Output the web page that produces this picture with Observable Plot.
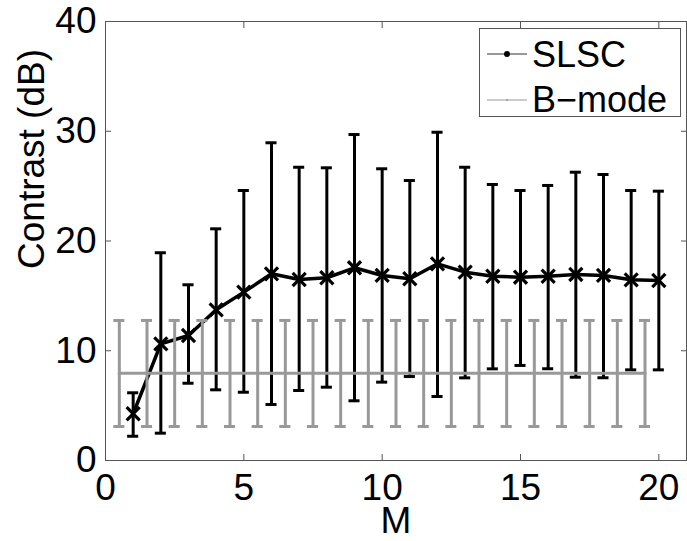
<!DOCTYPE html>
<html><head><meta charset="utf-8">
<script src="https://cdn.jsdelivr.net/npm/d3@7"></script>
<script src="https://cdn.jsdelivr.net/npm/@observablehq/plot@0.6"></script>
<style>body{margin:0;background:#fff} svg{display:block}</style>
</head><body><div id="chart"></div>
<script>
// SLSC contrast vs M
const M = [1,2,3,4,5,6,7,8,9,10,11,12,13,14,15,16,17,18,19,20];
const slscMean = [4.26,10.63,11.39,13.73,15.34,17.01,16.49,16.65,17.56,16.86,16.56,17.92,17.16,16.79,16.70,16.79,16.95,16.86,16.46,16.40];
const slscLow  = [2.21,2.49,7.04,6.44,6.22,5.10,6.38,6.68,5.44,7.14,7.65,5.83,7.53,8.35,8.66,8.36,7.59,7.54,8.26,8.26];
const slscHigh = [6.17,18.93,16.01,21.11,24.60,28.95,26.72,26.67,29.70,26.58,25.51,29.91,26.72,25.15,24.60,25.06,26.27,26.06,24.60,24.54];
// B-mode contrast (constant), plotted at half-integer positions
const bmodeM = [0.5,1.5,2.5,3.5,4.5,5.5,6.5,7.5,8.5,9.5,10.5,11.5,12.5,13.5,14.5,15.5,16.5,17.5,18.5,19.5];
const bmodeMean = [7.95,7.95,7.95,7.95,7.95,7.95,7.95,7.95,7.95,7.95,7.95,7.95,7.95,7.95,7.95,7.95,7.95,7.95,7.95,7.95];
const bmodeLow  = [3.10,3.10,3.10,3.10,3.10,3.10,3.10,3.10,3.10,3.10,3.10,3.10,3.10,3.10,3.10,3.10,3.10,3.10,3.10,3.10];
const bmodeHigh = [12.76,12.76,12.76,12.76,12.76,12.76,12.76,12.76,12.76,12.76,12.76,12.76,12.76,12.76,12.76,12.76,12.76,12.76,12.76,12.76];
const xTicks = [0,5,10,15,20];
const yTicks = [0,10,20,30,40];
const seriesNames = ["SLSC","B\u2212mode"];
const xLabel = "M";
const yLabel = "Contrast (dB)";

const slsc = M.map((m,i)=>({m, mean: slscMean[i], lo: slscLow[i], hi: slscHigh[i]}));
const bmode = bmodeM.map((m,i)=>({m, mean: bmodeMean[i], lo: bmodeLow[i], hi: bmodeHigh[i]}));

const cap = 0.2;
const gray = "#999999";
const axisColor = "#555555";
const font = "'Liberation Sans', Arial, Helvetica, sans-serif";

const plot = Plot.plot({
  width: 687, height: 541,
  marginLeft: 105, marginRight: 1, marginTop: 21, marginBottom: 81,
  style: {fontFamily: font, fontSize: "37px", background: "#fff", color: "#000"},
  x: {domain: [0, 21]},
  y: {domain: [0, 40]},
  marks: [
    // SLSC error bars
    Plot.ruleX(slsc, {x: "m", y1: "lo", y2: "hi", stroke: "#000", strokeWidth: 3}),
    Plot.ruleY(slsc, {y: "lo", x1: d => d.m - cap, x2: d => d.m + cap, stroke: "#000", strokeWidth: 3}),
    Plot.ruleY(slsc, {y: "hi", x1: d => d.m - cap, x2: d => d.m + cap, stroke: "#000", strokeWidth: 3}),
    Plot.line(slsc, {x: "m", y: "mean", stroke: "#000", strokeWidth: 3.5}),
    Plot.dot(slsc, {x: "m", y: "mean", symbol: "times", r: 6, stroke: "#000", strokeWidth: 3.2}),
    // B-mode
    Plot.ruleX(bmode, {x: "m", y1: "lo", y2: "hi", stroke: gray, strokeWidth: 3}),
    Plot.ruleY(bmode, {y: "lo", x1: d => d.m - cap, x2: d => d.m + cap, stroke: gray, strokeWidth: 3}),
    Plot.ruleY(bmode, {y: "hi", x1: d => d.m - cap, x2: d => d.m + cap, stroke: gray, strokeWidth: 3}),
    Plot.line(bmode, {x: "m", y: "mean", stroke: gray, strokeWidth: 3}),
    // frame and axes
    Plot.frame({stroke: axisColor, strokeWidth: 1}),
    Plot.axisX(xTicks, {anchor: "bottom", tickSize: -6, tickPadding: 19, stroke: axisColor, label: null, fontSize: 37, fill: "#000"}),
    Plot.axisX(xTicks, {anchor: "top", tickSize: -6, stroke: axisColor, label: null, text: null}),
    Plot.axisY(yTicks, {anchor: "left", tickSize: -6, tickPadding: 15, stroke: axisColor, label: null, fontSize: 37, fill: "#000"}),
    Plot.axisY(yTicks, {anchor: "right", tickSize: -6, stroke: axisColor, label: null, text: null}),
    Plot.text([xLabel], {frameAnchor: "bottom", dy: 72, lineAnchor: "bottom", fontSize: 37, fill: "#000"}),
    Plot.text([yLabel], {frameAnchor: "left", dx: -62, dy: 28, rotate: -90, lineAnchor: "bottom", fontSize: 37, fill: "#000"})
  ]
});

// Legend box inside the axes (top-right)
const svg = d3.select(plot);
const lg = svg.append("g").attr("font-family", font).attr("text-anchor", "start");
lg.append("rect").attr("x", 479.5).attr("y", 28.5).attr("width", 201).attr("height", 88)
  .attr("fill", "#fff").attr("stroke", axisColor).attr("stroke-width", 1);
lg.append("line").attr("x1", 487).attr("x2", 527).attr("y1", 54).attr("y2", 54).attr("stroke", "#333").attr("stroke-width", 1);
lg.append("circle").attr("cx", 507).attr("cy", 54).attr("r", 3).attr("fill", "#000");
lg.append("text").attr("x", 532).attr("y", 67).attr("font-size", 36).attr("fill", "#000").text(seriesNames[0]);
lg.append("line").attr("x1", 487).attr("x2", 527).attr("y1", 100).attr("y2", 100).attr("stroke", gray).attr("stroke-width", 1);
lg.append("circle").attr("cx", 507).attr("cy", 100).attr("r", 1).attr("fill", gray);
lg.append("text").attr("x", 532).attr("y", 112).attr("font-size", 36).attr("fill", "#000").text(seriesNames[1]);

document.getElementById("chart").appendChild(plot);
</script>
</body></html>
